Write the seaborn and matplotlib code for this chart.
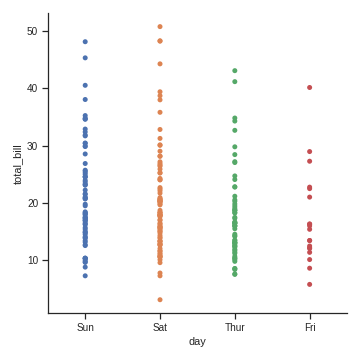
import matplotlib
matplotlib.use("Agg")
import matplotlib.pyplot as plt
import pandas as pd
import seaborn as sns

day_order = ["Sun", "Sat", "Thur", "Fri"]

sun_bill = [
    16.99, 10.34, 21.01, 23.68, 24.59, 25.29, 8.77, 26.88, 15.04, 14.78,
    10.27, 35.26, 15.42, 18.43, 14.83, 21.58, 10.33, 16.29, 16.97,
    17.46, 13.94, 9.68, 30.40, 18.29, 22.23, 32.40, 28.55, 18.04, 12.54,
    10.29, 34.81, 9.94, 25.56, 19.49,
    38.07, 23.95, 25.71, 17.31, 29.93,
    14.07, 13.13, 17.26, 24.55, 19.77, 29.85, 48.17, 25.00, 13.39, 16.49,
    21.50, 12.66, 16.21, 13.81, 17.51, 24.52, 20.76, 31.71,
    7.25, 31.85, 16.82, 32.90, 17.89, 14.48, 9.60, 34.63, 34.65, 23.33,
    45.35, 23.17, 40.55, 20.69, 20.90, 30.46, 18.15, 23.10, 15.69,
]
sat_bill = [
    20.65, 17.92, 20.29, 15.77, 39.42, 19.82, 17.81, 13.37, 12.69, 21.70,
    19.65, 9.55, 18.35, 15.06, 20.69, 17.78, 24.06, 16.31, 16.93, 18.69,
    31.27, 16.04,
    38.01, 26.41, 11.24, 48.27, 20.29, 13.81, 11.02, 18.29, 17.59, 20.08,
    16.45, 3.07, 20.23, 15.01, 12.02, 17.07, 26.86, 25.28, 14.73, 10.51,
    17.92,
    44.30, 22.42, 20.92, 15.36, 20.49, 25.21, 18.24, 14.31, 14.00, 7.25,
    10.59, 10.63, 50.81, 15.81,
    26.59, 38.73, 24.27, 12.76, 30.06, 25.89, 48.33, 13.27, 28.17, 12.90,
    28.15, 11.59, 7.74, 30.14,
    20.45, 13.28, 22.12, 24.01, 15.69, 11.61, 10.77, 15.53, 10.07, 12.60,
    32.83, 35.83, 29.03, 27.18, 22.67, 17.82,
]
thur_bill = [
    27.20, 22.76, 17.29, 19.44, 16.66, 10.07, 32.68, 15.98, 34.83, 13.03,
    18.28, 24.71, 21.16,
    10.65, 12.43, 24.08, 11.69, 13.42, 14.26, 15.95, 12.48, 29.80, 8.52,
    14.52, 11.38, 22.82, 19.08, 20.27, 11.17, 12.26, 18.26, 8.51, 10.33,
    14.15, 16.00, 13.16, 17.47, 34.30, 41.19, 27.05, 16.43, 8.35, 18.64,
    11.87, 9.78, 7.51,
    19.81, 28.44, 15.48, 16.58, 7.56, 10.34, 43.11, 13.00, 13.51, 18.71,
    12.74, 13.00, 16.40, 20.53, 16.47,
    18.78,
]
fri_bill = [
    28.97, 22.49, 5.75, 16.32, 22.75, 40.17, 27.28, 12.03, 21.01, 12.46,
    11.35, 15.38, 12.16, 13.42, 8.58, 15.98, 13.42, 16.27, 10.09,
]

bills = {"Sun": sun_bill, "Sat": sat_bill, "Thur": thur_bill, "Fri": fri_bill}
tips = pd.DataFrame(
    [(d, v) for d in day_order for v in bills[d]],
    columns=["day", "total_bill"],
)

sns.set_theme(style="ticks", rc={
    "xtick.labelsize": 10, "ytick.labelsize": 10, "axes.labelsize": 11,
})
plt.rcParams["font.family"] = ["Liberation Sans", "DejaVu Sans"]

g = sns.catplot(
    data=tips, x="day", y="total_bill", hue="day",
    order=day_order, hue_order=day_order, jitter=False,
    height=5, aspect=1,
)
g.figure.savefig("out.png", dpi=72)
plt.close(g.figure)
